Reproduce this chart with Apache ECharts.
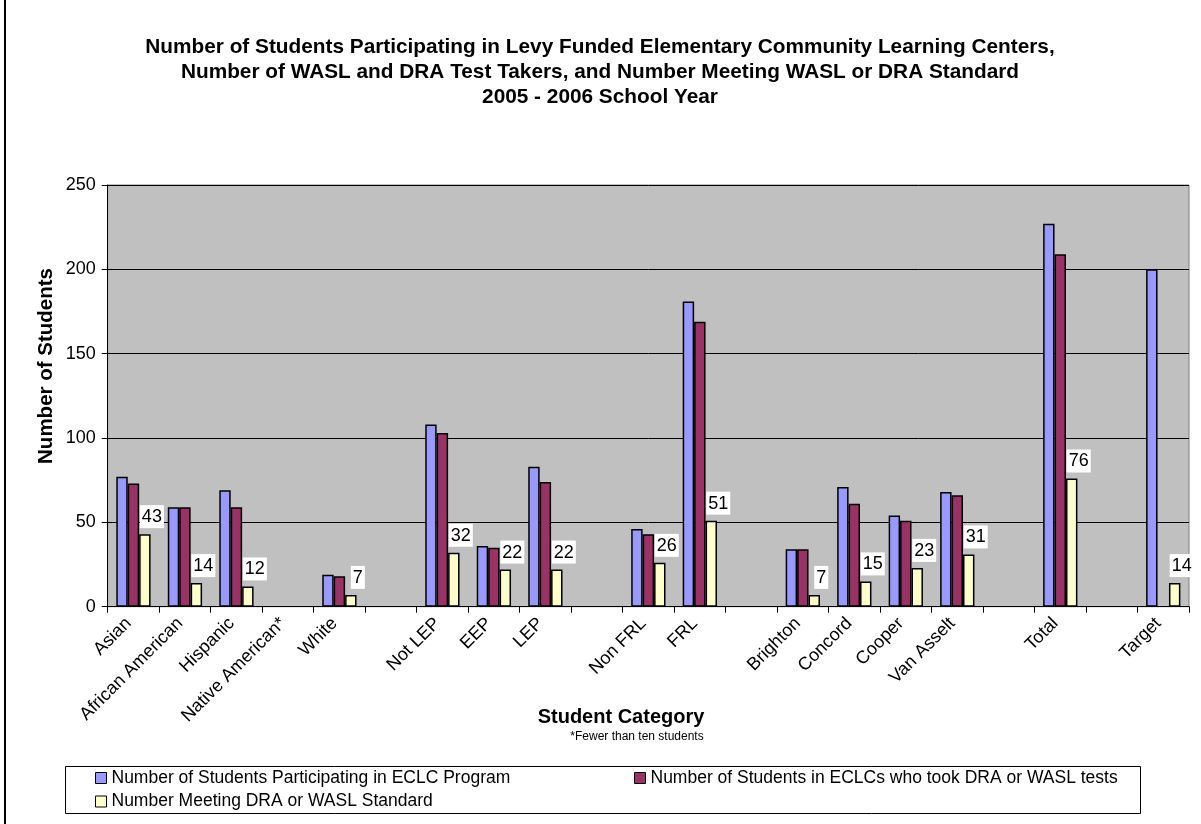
<!DOCTYPE html>
<html>
<head>
<meta charset="utf-8">
<title>ECLC Participation 2005-2006</title>
<script src="https://cdn.jsdelivr.net/npm/echarts@6/dist/echarts.min.js"></script>
<style>
  html, body { margin: 0; padding: 0; background: #fff; }
  #chart { width: 1201px; height: 824px; }
</style>
</head>
<body>
<div id="chart"></div>
<script>
// Student categories (empty strings are spacer slots between groups)
const categories = ['Asian', 'African American', 'Hispanic', 'Native American*', 'White', '',
  'Not LEP', 'EEP', 'LEP', '', 'Non FRL', 'FRL', '',
  'Brighton', 'Concord', 'Cooper', 'Van Asselt', '', 'Total', '', 'Target'];

const seriesNames = [
  'Number of Students Participating in ECLC Program',
  'Number of Students in ECLCs who took DRA or WASL tests',
  'Number Meeting DRA or WASL Standard'
];

const participating = [77, 59, 69, null, 19, null, 108, 36, 83, null, 46, 181, null, 34, 71, 54, 68, null, 227, null, 200];
const tookTests     = [73, 59, 59, null, 18, null, 103, 35, 74, null, 43, 169, null, 34, 61, 51, 66, null, 209, null, null];
const meetingStd    = [43, 14, 12, null, 7, null, 32, 22, 22, null, 26, 51, null, 7, 15, 23, 31, null, 76, null, 14];

const yTicks = [0, 50, 100, 150, 200, 250];

const titleLines = [
  'Number of Students Participating in Levy Funded Elementary Community Learning Centers,',
  'Number of WASL and DRA Test Takers, and Number Meeting WASL or DRA Standard',
  '2005 - 2006 School Year'
];

const FONT = "'Liberation Sans', Arial, sans-serif";
const colors = ['#9999FF', '#993366', '#FFFFCC'];

const chart = echarts.init(document.getElementById('chart'), null, { renderer: 'canvas' });

const barStyle = (c) => ({ color: c, borderColor: '#000', borderWidth: 1.5 });

const legendFor = (name, left, top) => ({
  data: [name],
  left: left,
  top: top,
  padding: 0,
  itemWidth: 11,
  itemHeight: 11,
  icon: 'rect',
  selectedMode: false,
  itemStyle: { borderColor: '#000', borderWidth: 1 },
  textStyle: { fontFamily: FONT, fontSize: 17.5, color: '#000' }
});

chart.setOption({
  animation: false,
  backgroundColor: '#fff',
  textStyle: { fontFamily: FONT },
  grid: {
    left: 107.7, top: 185, right: 12, bottom: 217.3,
    show: true, backgroundColor: '#C0C0C0', borderColor: '#808080', borderWidth: 1
  },
  legend: [
    legendFor(seriesNames[0], 95, 769),
    legendFor(seriesNames[1], 634, 769),
    legendFor(seriesNames[2], 95, 792.5)
  ],
  xAxis: {
    type: 'category',
    data: categories,
    axisLine: { show: true, lineStyle: { color: '#000', width: 1 } },
    axisTick: { show: true, interval: 0, length: 6, lineStyle: { color: '#000' } },
    axisLabel: {
      interval: 0, rotate: 45, margin: 9, padding: [0, 7, 0, 0],
      fontFamily: FONT, fontSize: 18, color: '#000'
    },
    splitLine: { show: false }
  },
  yAxis: {
    type: 'value',
    min: yTicks[0], max: yTicks[yTicks.length - 1], interval: 50,
    axisLine: { show: true, lineStyle: { color: '#000', width: 1 } },
    axisTick: { show: true, length: 6, lineStyle: { color: '#000' } },
    axisLabel: { margin: 12, fontFamily: FONT, fontSize: 18, color: '#000' },
    splitLine: { show: true, lineStyle: { color: '#000', width: 1 } }
  },
  series: [
    {
      name: seriesNames[0], type: 'bar', data: participating,
      barGap: '0%', barCategoryGap: '33.4%',
      itemStyle: barStyle(colors[0])
    },
    {
      name: seriesNames[1], type: 'bar', data: tookTests,
      barGap: '0%', barCategoryGap: '33.4%',
      itemStyle: barStyle(colors[1])
    },
    {
      name: seriesNames[2], type: 'bar', data: meetingStd,
      barGap: '0%', barCategoryGap: '33.4%',
      itemStyle: barStyle(colors[2]),
      label: {
        show: true, position: 'top', distance: 5, offset: [7, -1],
        formatter: '{c}',
        backgroundColor: '#fff', padding: [3, 2, 2, 2],
        fontFamily: FONT, fontSize: 18, color: '#000'
      }
    }
  ],
  graphic: [
    // frame line along the left edge
    { type: 'line', shape: { x1: 5, y1: 0, x2: 5, y2: 824 }, style: { stroke: '#000', lineWidth: 2 } },
    {
      type: 'text', x: 600, y: 35,
      style: {
        text: titleLines.join('\n'), align: 'center', verticalAlign: 'top', lineHeight: 25,
        font: "bold 20.8px " + FONT, fill: '#000'
      }
    },
    {
      type: 'text', x: 46, y: 366, rotation: Math.PI / 2,
      style: {
        text: 'Number of Students', align: 'center', verticalAlign: 'middle',
        font: "bold 20.5px " + FONT, fill: '#000'
      }
    },
    {
      type: 'text', x: 621, y: 717,
      style: {
        text: 'Student Category', align: 'center', verticalAlign: 'middle',
        font: "bold 20px " + FONT, fill: '#000'
      }
    },
    {
      type: 'text', x: 637, y: 737,
      style: {
        text: '*Fewer than ten students', align: 'center', verticalAlign: 'middle',
        font: "12px " + FONT, fill: '#000'
      }
    },
    {
      type: 'rect', shape: { x: 65.5, y: 766.5, width: 1075, height: 47 },
      style: { fill: 'none', stroke: '#000', lineWidth: 1 }, z: -1
    }
  ]
});
</script>
</body>
</html>
